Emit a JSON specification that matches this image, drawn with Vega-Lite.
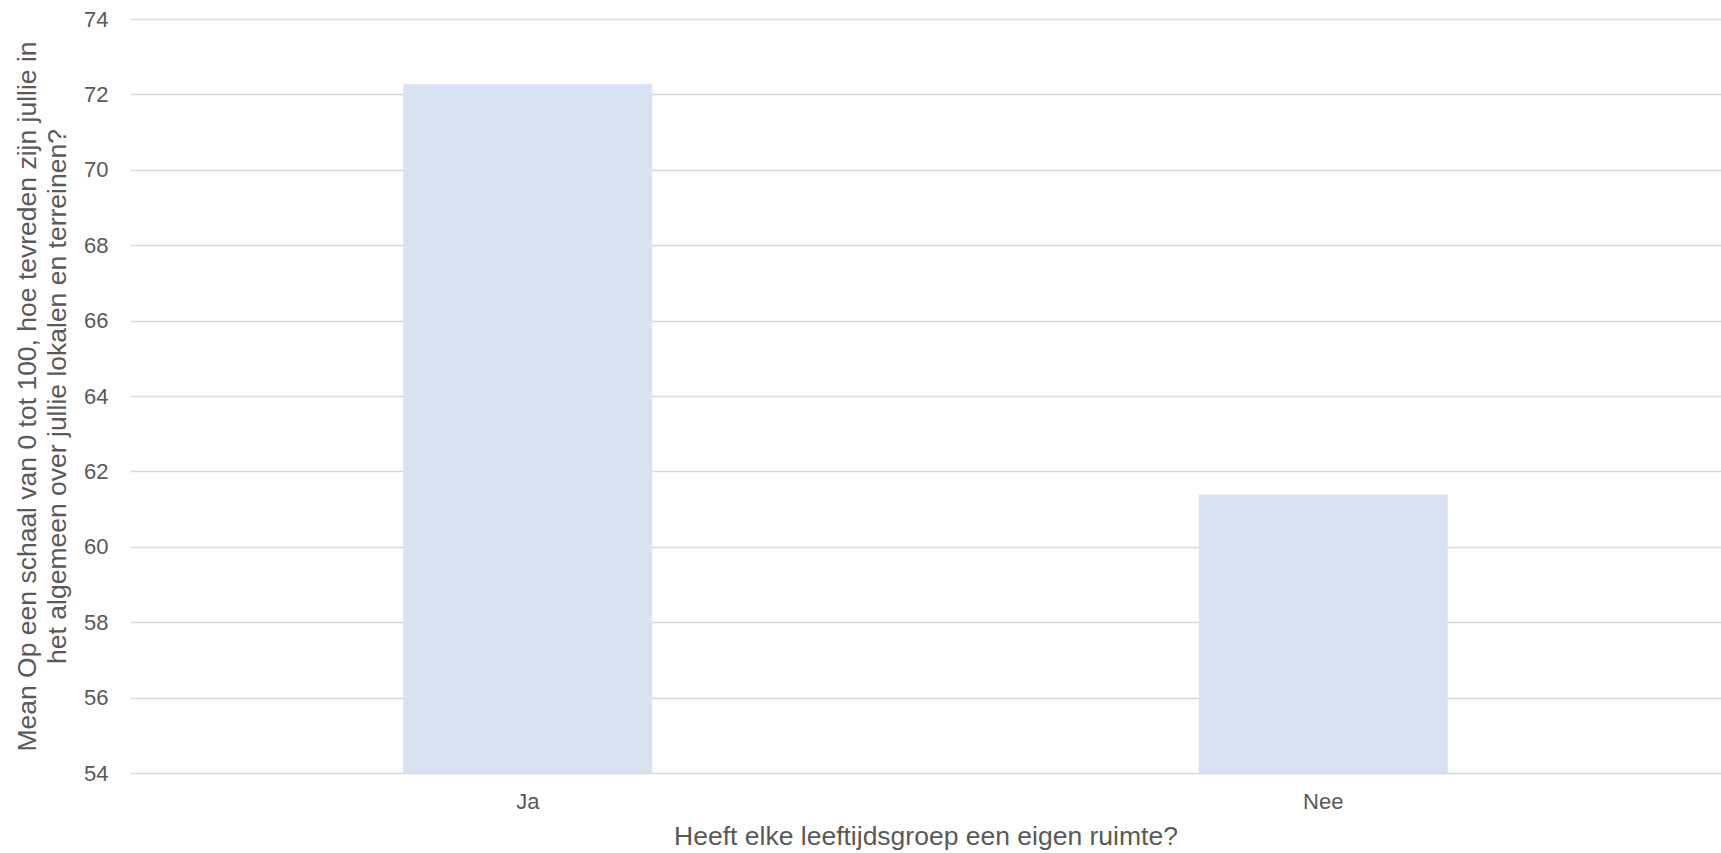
{
  "$schema": "https://vega.github.io/schema/vega-lite/v6.json",
  "autosize": {"type": "none"},
  "width": 1591,
  "height": 754,
  "padding": {"left": 130, "top": 19, "right": 0, "bottom": 80},
  "background": "white",
  "config": {
    "view": {"stroke": null},
    "font": "Liberation Sans"
  },
  "data": {
    "values": [
      {"groep": "Ja", "mean": 72.27},
      {"groep": "Nee", "mean": 61.39}
    ]
  },
  "mark": {"type": "bar", "color": "#D9E2F3", "width": {"band": 0.313}, "clip": true},
  "encoding": {
    "x": {
      "field": "groep",
      "type": "nominal",
      "sort": null,
      "scale": {"paddingInner": 0, "paddingOuter": 0},
      "axis": {
        "title": "Heeft elke leeftijdsgroep een eigen ruimte?",
        "labelAngle": 0,
        "labelFont": "Liberation Sans",
        "labelFontSize": 22,
        "labelColor": "#595959",
        "labelPadding": 18,
        "titleFont": "Liberation Sans",
        "titleFontSize": 26.5,
        "titleFontWeight": "normal",
        "titleColor": "#595959",
        "titlePadding": 11,
        "domain": false,
        "ticks": false,
        "grid": false
      }
    },
    "y": {
      "field": "mean",
      "type": "quantitative",
      "scale": {"domain": [54, 74], "zero": false, "nice": false},
      "axis": {
        "title": ["Mean Op een schaal van 0 tot 100, hoe tevreden zijn jullie in", "het algemeen over jullie lokalen en terreinen?"],
        "values": [54, 56, 58, 60, 62, 64, 66, 68, 70, 72, 74],
        "labelFont": "Liberation Sans",
        "labelFontSize": 22,
        "labelColor": "#595959",
        "labelPadding": 22,
        "titleFont": "Liberation Sans",
        "titleFontSize": 26.5,
        "titleFontWeight": "normal",
        "titleColor": "#595959",
        "titlePadding": 12,
        "titleLineHeight": 30,
        "domain": false,
        "ticks": false,
        "grid": true,
        "gridColor": "#D9D9D9",
        "gridWidth": 1.5
      }
    }
  }
}
